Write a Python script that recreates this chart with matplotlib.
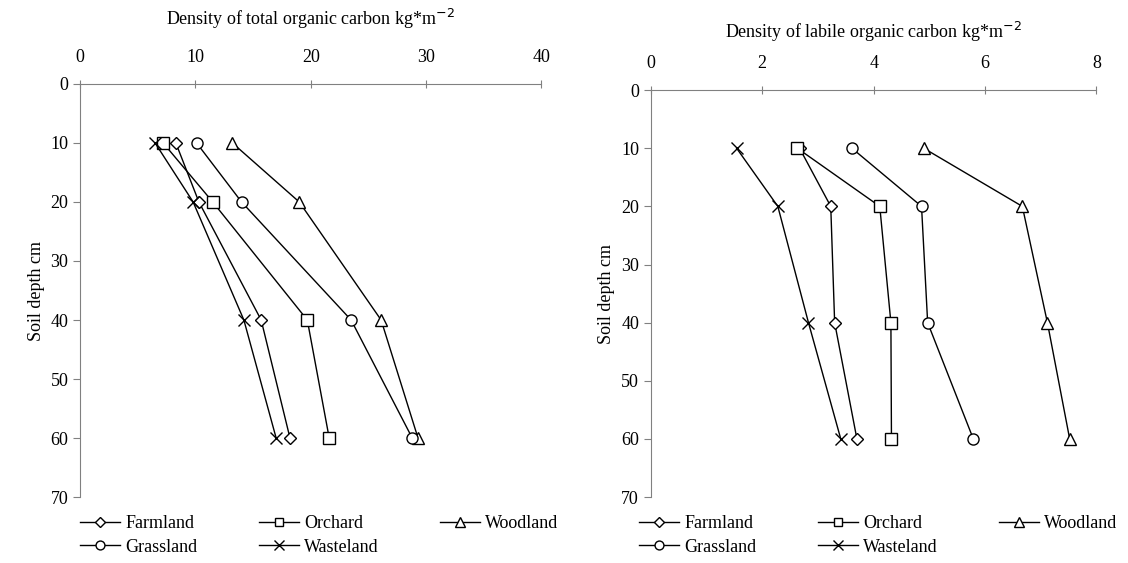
import numpy as np
import matplotlib.pyplot as plt

plt.rcParams['font.family'] = ['Liberation Serif', 'DejaVu Serif']

depth = [10, 20, 40, 60]
names = ["Farmland", "Orchard", "Woodland", "Grassland", "Wasteland"]
markers = ["D", "s", "^", "o", "x"]
msizes = [6.5, 8, 9, 8, 9]

# total organic carbon density
toc_farmland = [8.3, 10.3, 15.7, 18.2]
toc_orchard = [7.2, 11.5, 19.7, 21.6]
toc_woodland = [13.2, 19.0, 26.1, 29.3]
toc_grassland = [10.1, 14.0, 23.5, 28.8]
toc_wasteland = [6.5, 9.8, 14.2, 17.0]

# labile organic carbon density
loc_farmland = [2.67, 3.23, 3.30, 3.70]
loc_orchard = [2.63, 4.11, 4.31, 4.32]
loc_woodland = [4.90, 6.67, 7.12, 7.52]
loc_grassland = [3.61, 4.86, 4.97, 5.79]
loc_wasteland = [1.54, 2.28, 2.83, 3.41]

toc = [toc_farmland, toc_orchard, toc_woodland, toc_grassland, toc_wasteland]
loc = [loc_farmland, loc_orchard, loc_woodland, loc_grassland, loc_wasteland]

fig = plt.figure(figsize=(11.28, 5.63), dpi=100)
ax1 = fig.add_axes([0.071, 0.117, 0.409, 0.734])
ax2 = fig.add_axes([0.577, 0.117, 0.395, 0.723])

def draw(ax, series, xmax, xstep, title, pad, legx):
    lines = []
    for vals, name, m, ms in zip(series, names, markers, msizes):
        ln, = ax.plot(vals, depth, color='black', lw=1, marker=m, ms=ms,
                      mfc='white', mec='black', mew=1, label=name)
        lines.append(ln)
    ax.set_xlim(0, xmax)
    ax.set_ylim(70, 0)
    ax.set_xticks(np.arange(0, xmax + xstep / 2, xstep))
    ax.set_yticks(range(0, 71, 10))
    ax.xaxis.tick_top()
    ax.xaxis.set_label_position('top')
    ax.set_xlabel(title, fontsize=13, labelpad=pad)
    ax.set_ylabel("Soil depth cm", fontsize=13)
    ax.spines['right'].set_visible(False)
    ax.spines['bottom'].set_visible(False)
    for s in ['top', 'left']:
        ax.spines[s].set_color('#808080')
    ax.tick_params(axis='x', direction='inout', length=6, color='#808080',
                   labelsize=13, pad=10)
    ax.tick_params(axis='y', direction='out', length=5, color='#808080',
                   labelsize=13)
    # row-wise order: Farmland Orchard Woodland / Grassland Wasteland
    order = [0, 3, 1, 4, 2]
    ax.legend([lines[i] for i in order], [names[i] for i in order],
              loc='upper left', bbox_to_anchor=(legx, -0.005), ncol=3,
              frameon=False, fontsize=13, handlelength=2.2,
              columnspacing=3.4, handletextpad=0.3, labelspacing=0.35,
              markerscale=0.8)

draw(ax1, toc, 40, 10, "Density of total organic carbon kg*m$^{-2}$", 17, -0.035)
draw(ax2, loc, 8, 2, "Density of labile organic carbon kg*m$^{-2}$", 12, -0.062)

fig.savefig("out.png", dpi=100)
